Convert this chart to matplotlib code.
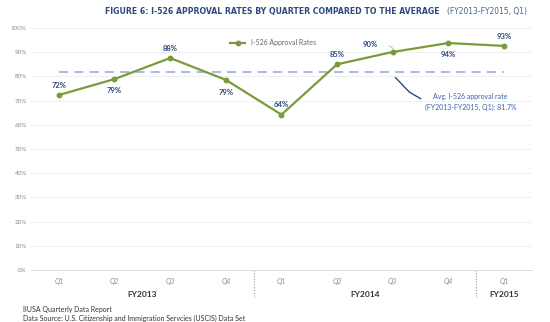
import matplotlib.pyplot as plt
import numpy as np

# quarterly approval rates, FY2013 Q1 .. FY2015 Q1
quarters = ['Q1', 'Q2', 'Q3', 'Q4', 'Q1', 'Q2', 'Q3', 'Q4', 'Q1']
rates = [72.3, 78.9, 87.6, 78.6, 64.2, 85.0, 90.1, 93.8, 92.6]
rate_labels = ['72%', '79%', '88%', '79%', '64%', '85%', '90%', '94%', '93%']
years = ['FY2013', 'FY2014', 'FY2015']
year_spans = [(0, 3), (4, 7), (8, 8)]
avg_rate = 81.7

plt.rcParams['font.family'] = ['Lato', 'DejaVu Sans']

green = '#7b9a3c'
navy = '#2d4a7a'
grey = '#8c8c8c'

fig = plt.figure(figsize=(5.5, 3.22), dpi=100)
ax = fig.add_axes([0.0564, 0.1615, 0.9106, 0.7515])

x = np.arange(len(quarters))
ax.plot(x, rates, color=green, lw=1.6, marker='o', ms=3.2, label='I-526 Approval Rates', zorder=3)
ax.plot([x[0], x[-1]], [avg_rate, avg_rate], color='#8eaad3', lw=1.1, ls=(0, (6, 4)), zorder=2)

ax.set_xlim(-0.5, len(quarters) - 0.5)
ax.set_ylim(0, 100)
ax.set_yticks(np.arange(0, 101, 10))
ax.set_yticklabels([f'{v}%' for v in range(0, 101, 10)], fontsize=4.5, color=grey)
ax.set_xticks(x)
ax.set_xticklabels(quarters, fontsize=5, color=grey, style='italic')
ax.tick_params(length=0, pad=6)
ax.tick_params(axis='y', pad=3)
ax.grid(axis='y', color='#efefef', lw=0.7)
for s in ['top', 'right', 'left']:
    ax.spines[s].set_visible(False)
ax.spines['bottom'].set_color('#dcdcdc')
ax.spines['bottom'].set_linewidth(0.7)

# value labels
offsets = {0: (0, 7), 1: (0, -8), 2: (0, 7), 3: (0, -9), 4: (0, 7),
           5: (0, 7), 7: (0, -8), 8: (0, 7)}
for i, (v, lab) in enumerate(zip(rates, rate_labels)):
    if i == 6:
        ax.annotate(lab, xy=(i, v), xytext=(i - 0.4, v + 3.2), fontsize=5.5, color=navy,
                    fontweight='bold', ha='center', va='center',
                    arrowprops=dict(arrowstyle='-', color='#b0b0b0', lw=0.6,
                                    connectionstyle='angle3,angleA=0,angleB=60',
                                    shrinkA=6, shrinkB=2))
        continue
    dx, dy = offsets[i]
    ax.annotate(lab, xy=(i, v), xytext=(dx, dy), textcoords='offset points',
                fontsize=5.5, color=navy, fontweight='bold', ha='center', va='center')

# callout for the average line
ax.plot([6.05, 6.3, 6.5], [79.5, 73.5, 70.8], color=navy, lw=1.0)
ax.text(7.4, 69.3, 'Avg. I-526 approval rate\n(FY2013-FY2015, Q1): 81.7%', fontsize=5,
        color='#3f63a8', ha='center', va='center', linespacing=1.6)

ax.legend(loc='upper left', bbox_to_anchor=(0.385, 0.98), frameon=False, fontsize=5,
          handlelength=2.2, labelcolor='#666666')

# year grouping below the quarter labels
for name, (a, b) in zip(years, year_spans):
    ax.text((a + b) / 2, -10, name, fontsize=6, fontweight='bold', color='#333333',
            ha='center', va='center', clip_on=False)
for sep in [3.5, 7.5]:
    ax.plot([sep, sep], [0, -11.5], color='#8a9bb8', lw=0.8, ls=(0, (1, 1.5)), clip_on=False)

# title: bold part and lighter suffix, squeezed to fit their spans
title_font = 'DejaVu Sans'
t1 = fig.text(105 / 550, 0.965, 'FIGURE 6: I-526 APPROVAL RATES BY QUARTER COMPARED TO THE AVERAGE',
              fontsize=9, fontweight='bold', color='#2e4a7d', ha='left', va='center',
              family=title_font, fontstretch='condensed')
t2 = fig.text(447 / 550, 0.965, '(FY2013-FY2015, Q1)', fontsize=9, color='#4a6494',
              ha='left', va='center', family=title_font, fontstretch='condensed')
renderer = fig.canvas.get_renderer()
for t, w in [(t1, 334), (t2, 81)]:
    cur = t.get_window_extent(renderer).width
    t.set_fontsize(t.get_fontsize() * w / cur)

fig.text(0.042, 0.04, 'IIUSA Quarterly Data Report', fontsize=5, color='#333333', va='center')
fig.text(0.042, 0.012, 'Data Source: U.S. Citizenship and Immigration Servcies (USCIS) Data Set',
         fontsize=5, color='#333333', va='center')

fig.savefig('out.png', dpi=100)
